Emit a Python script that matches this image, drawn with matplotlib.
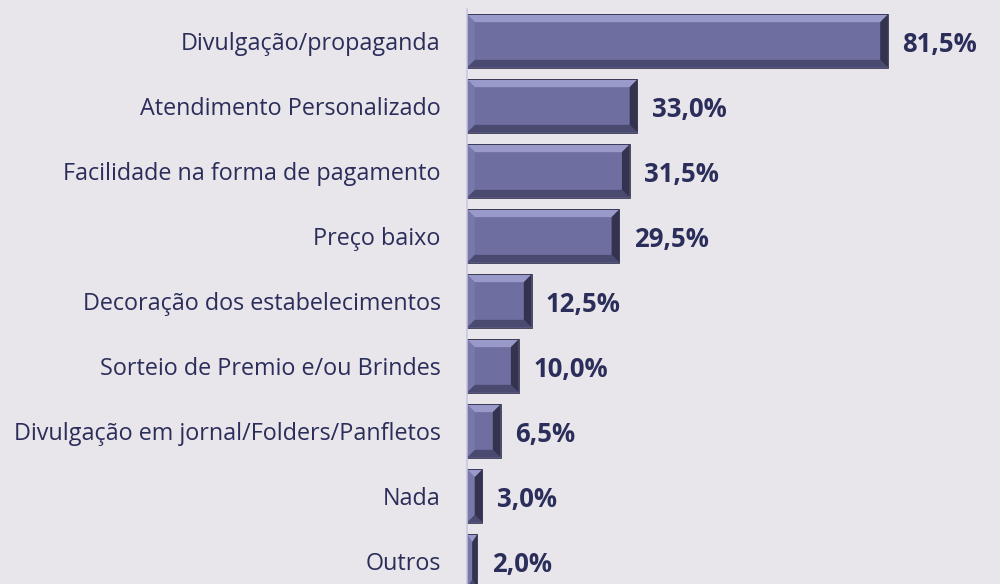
import matplotlib.pyplot as plt
from matplotlib.patches import Polygon, Rectangle

categorias = ['Divulgação/propaganda', 'Atendimento Personalizado',
              'Facilidade na forma de pagamento', 'Preço baixo',
              'Decoração dos estabelecimentos', 'Sorteio de Premio e/ou Brindes',
              'Divulgação em jornal/Folders/Panfletos', 'Nada', 'Outros']
valores = [81.5, 33.0, 31.5, 29.5, 12.5, 10.0, 6.5, 3.0, 2.0]
rotulos = ['81,5%', '33,0%', '31,5%', '29,5%', '12,5%', '10,0%', '6,5%', '3,0%', '2,0%']

bg = '#e8e6ea'
face = '#6e6ea0'
txt = '#2b2d5a'

fig = plt.figure(figsize=(10, 5.84), dpi=100, facecolor=bg)
ax = fig.add_axes([0.467, 0.0, 0.533, 1.0])
ax.set_facecolor(bg)

ax.set_xlim(0, 103.2)
ax.set_ylim(8.354, -0.631)

h = 0.82
bx = 1.5   # bevel width in x (data units)
by = 0.12  # bevel in y
for i, v in enumerate(valores):
    y0, y1 = i - h / 2, i + h / 2
    b = min(bx, v / 2)
    ax.add_patch(Rectangle((0, y0), v, h, facecolor=face, edgecolor='none'))
    # top (light)
    ax.add_patch(Polygon([(0, y0), (v, y0), (v - b, y0 + by), (b, y0 + by)],
                         facecolor='#9a9aca', edgecolor='none'))
    # left
    ax.add_patch(Polygon([(0, y0), (b, y0 + by), (b, y1 - by), (0, y1)],
                         facecolor='#7878aa', edgecolor='none'))
    # bottom (dark)
    ax.add_patch(Polygon([(0, y1), (b, y1 - by), (v - b, y1 - by), (v, y1)],
                         facecolor='#4a4a70', edgecolor='none'))
    # right (darkest)
    ax.add_patch(Polygon([(v, y0), (v - b, y0 + by), (v - b, y1 - by), (v, y1)],
                         facecolor='#33334f', edgecolor='none'))
    ax.add_patch(Rectangle((0, y0), v, h, facecolor='none', edgecolor='#2e2e48', lw=0.6))
    ax.text(v + 2.8, i + 0.06, rotulos[i], va='center', ha='left',
            fontsize=18.5, fontweight='bold', color=txt, family='Open Sans')

ax.set_yticks(range(len(categorias)))
ax.set_yticklabels(categorias, fontsize=16.8, color=txt, family='Open Sans')
ax.tick_params(axis='y', length=0, pad=19)
ax.set_xticks([])
for s in ['top', 'right', 'bottom']:
    ax.spines[s].set_visible(False)
ax.spines['left'].set_color('#c8c8e6')
ax.spines['left'].set_linewidth(1.2)
ax.spines['left'].set_bounds(8.354, -0.49)

fig.savefig('out.png', dpi=100, facecolor=bg)
